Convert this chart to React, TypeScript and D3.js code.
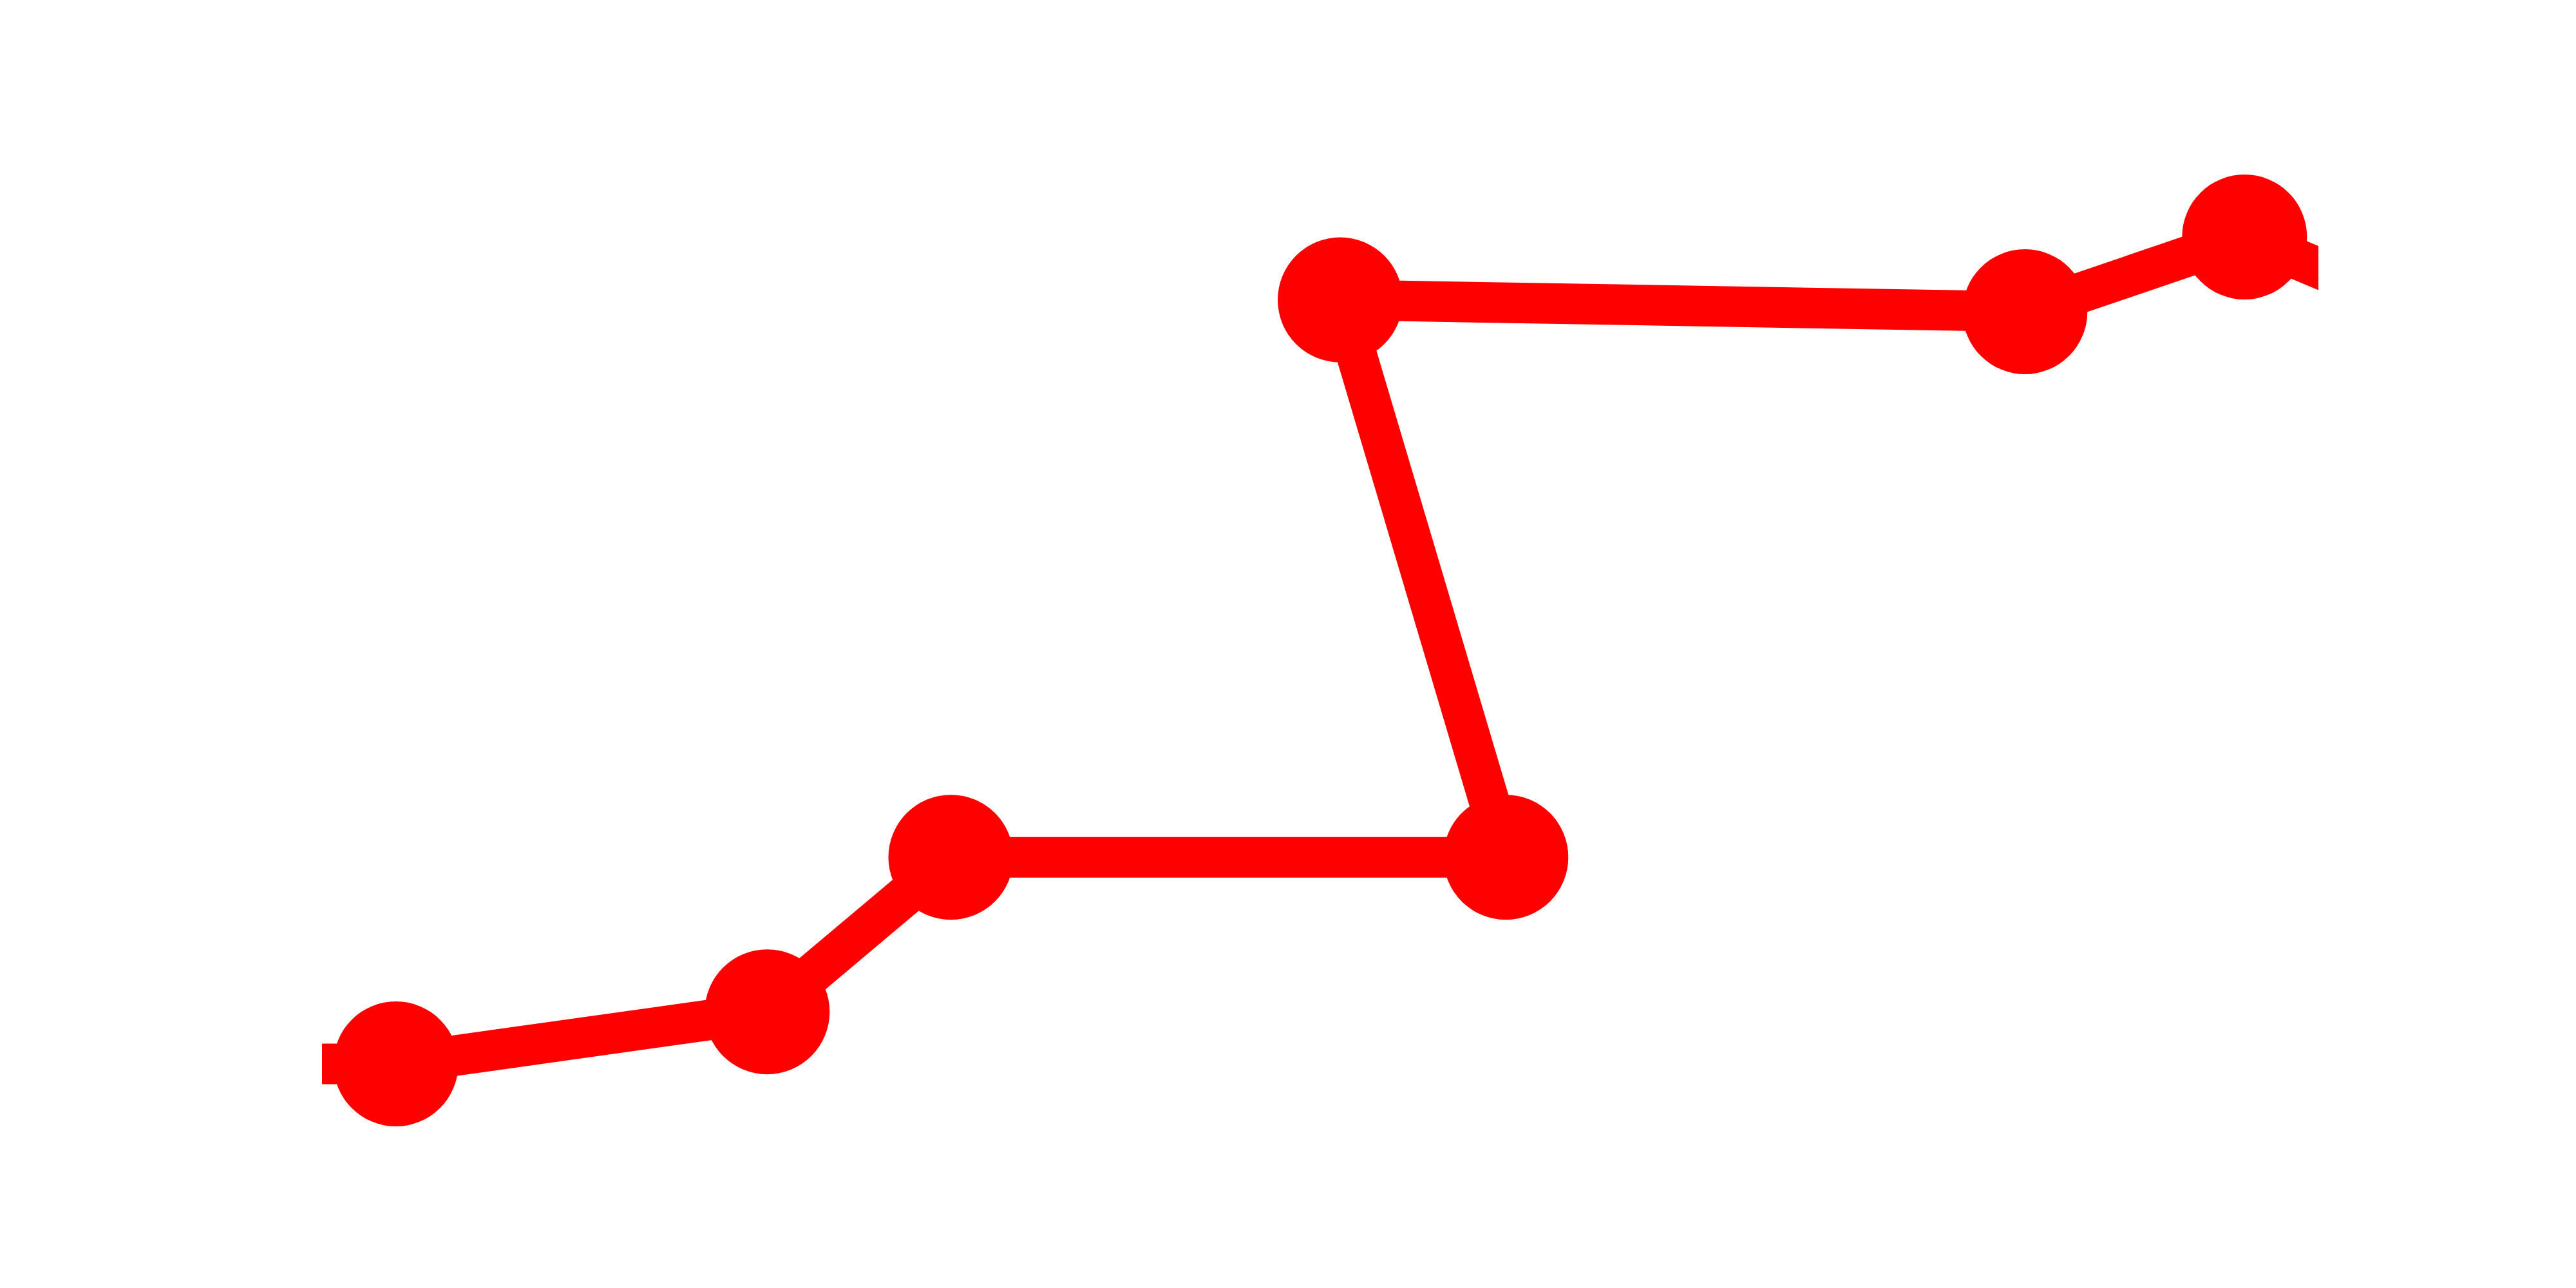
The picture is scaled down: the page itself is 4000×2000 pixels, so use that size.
import React, { useEffect } from 'react';
import * as d3 from 'd3';

// series, in path order (the line doubles back once), plus one point off each side
const xValues = [-6, 3.7, 22.3, 31.5, 59.3, 51.0, 85.3, 96.3, 106];
const yValues = [9.25, 9.25, 14.3, 29.3, 29.3, 83.4, 82.25, 89.5, 81.6];

const width = 4000;
const height = 2000;
const margin = { top: 200, right: 400, bottom: 200, left: 500 };

const App = () => {
  useEffect(() => {
    document.body.style.margin = '0'; // page default is 8px
  }, []);

  const points = xValues.map((x, i) => ({ x, y: yValues[i] }));

  const x = d3.scaleLinear()
    .domain([0, 100])
    .range([margin.left, width - margin.right]);

  const y = d3.scaleLinear()
    .domain([0, 100])
    .range([height - margin.bottom, margin.top]);

  const line = d3.line<{ x: number; y: number }>()
    .x(d => x(d.x))
    .y(d => y(d.y));

  return (
    <svg width={width} height={height} style={{ display: 'block' }}>
      <defs>
        <clipPath id="plot-clip">
          <rect
            x={margin.left}
            y={0}
            width={width - margin.left - margin.right}
            height={height}
          />
        </clipPath>
      </defs>
      <g clipPath="url(#plot-clip)">
        <path d={line(points) ?? ''} fill="none" stroke="#ff0000" strokeWidth={63} />
        {points.map((d, i) => (
          <circle key={i} cx={x(d.x)} cy={y(d.y)} r={97} fill="#ff0000" />
        ))}
      </g>
    </svg>
  );
};

export default App;
